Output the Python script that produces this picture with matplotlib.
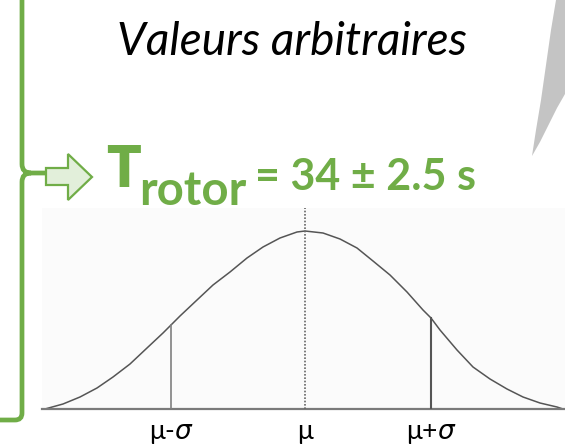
import matplotlib
matplotlib.use("Agg")
import matplotlib.pyplot as plt
from matplotlib.patches import Polygon, PathPatch
from matplotlib.path import Path

plt.rcParams['font.family'] = ['Lato', 'DejaVu Sans']
plt.rcParams['mathtext.fontset'] = 'dejavusans'

# bell curve (arbitrary units, mu = 0)
curve_x = [-260, -242, -225, -208, -192, -175, -158, -142, -134, -125, -108, -92,
           -75, -58, -42, -25, -8, 0, 18, 35, 52, 68, 85, 102, 118, 126, 135,
           152, 168, 185, 202, 218, 235, 252, 258]
curve_y = [0, 5, 12, 21, 32, 45, 61, 76, 84, 93, 109, 124,
           137, 151, 162, 171, 177, 178, 176, 170, 161, 148, 134, 117, 99, 91, 79,
           59, 42, 30, 20, 12, 6, 2, 0]

tick_pos = [-134, 0, 126]
tick_labels = ['μ-$\\sigma$', 'μ', 'μ+$\\sigma$']
sigma_heights = [84, 91]  # height of the curve at mu-sigma and mu+sigma

title = 'Valeurs arbitraires'
green = '#70AD47'

fig = plt.figure(figsize=(5.65, 4.48), dpi=100)

# slide decoration layer in pixel coordinates
deco = fig.add_axes([0, 0, 1, 1])
deco.set_xlim(0, 565)
deco.set_ylim(448, 0)
deco.axis('off')

# grey blade shape at top right
blade = [(556, 0), (551, 30), (546, 65), (541, 100), (536, 130), (532, 156),
         (540, 142), (549, 124), (557, 108), (565, 94), (565, 0)]
deco.add_patch(Polygon(blade, closed=True, facecolor='#c4c4c4', edgecolor='none'))

# green brace
verts = [(22, -5), (22, 164), (22, 173), (31, 173), (46, 173),
         (31, 173), (22, 173), (22, 182), (22, 413), (22, 420), (15, 420), (-5, 420)]
codes = [Path.MOVETO, Path.LINETO, Path.CURVE3, Path.CURVE3, Path.LINETO,
         Path.MOVETO, Path.CURVE3, Path.CURVE3, Path.LINETO, Path.CURVE3, Path.CURVE3, Path.LINETO]
deco.add_patch(PathPatch(Path(verts, codes), facecolor='none', edgecolor=green, lw=3.4,
                         capstyle='butt'))

# block arrow
arrow = [(46, 168), (68, 168), (68, 154), (92, 177), (68, 200), (68, 185), (46, 185)]
deco.add_patch(Polygon(arrow, closed=True, facecolor='#E2EFDA', edgecolor=green, lw=1.6))

deco.text(292, 42, title, fontsize=33, style='italic', ha='center', va='center', color='black')
deco.text(106, 187, 'T', fontsize=41, fontweight='heavy', color=green, ha='left', va='baseline')
deco.text(139, 205, 'rotor', fontsize=34, fontweight='bold', color=green, ha='left', va='baseline')
deco.text(255, 190, '= 34 ± 2.5 s', fontsize=31, fontweight='bold', color=green, ha='left', va='baseline')

# the chart itself
ax = fig.add_axes([42 / 565, 39 / 448, 523 / 565, 201 / 448])
ax.set_facecolor('#fbfbfb')
ax.set_xlim(-263, 260)
ax.set_ylim(0, 201)
for s in ax.spines.values():
    s.set_visible(False)
ax.set_xticks([])
ax.set_yticks([])

ax.plot(curve_x, curve_y, color='#555555', lw=1.1, solid_joinstyle='round')
ax.plot([-263, 260], [0, 0], color='#7a7a7a', lw=1.6, clip_on=False)
ax.plot([tick_pos[0], tick_pos[0]], [0, sigma_heights[0]], color='#808080', lw=1.2)
ax.plot([tick_pos[2], tick_pos[2]], [0, sigma_heights[1]], color='#555555', lw=1.5)
ax.plot([0, 0], [0, 201], color='#666666', lw=1.2, ls=(0, (1, 1)))

for p, lab in zip(tick_pos, tick_labels):
    ax.text(p, -30, lab, fontsize=19, ha='center', va='baseline', color='black')

fig.savefig('out.png', dpi=100)
